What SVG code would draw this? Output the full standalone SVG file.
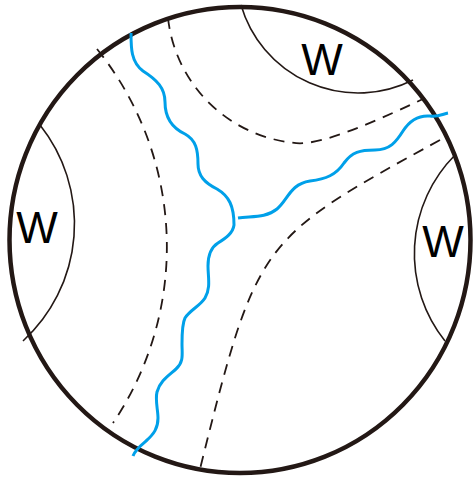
<svg xmlns="http://www.w3.org/2000/svg" width="473" height="478" viewBox="0 0 473 478">
<style>
.bd{fill:none;stroke:#231815;stroke-width:4.5}
.thin{fill:none;stroke:#231815;stroke-width:1.6}
.dash{fill:none;stroke:#231815;stroke-width:1.8;stroke-dasharray:11 8}
.wave{fill:none;stroke:#00a0e9;stroke-width:3;stroke-linecap:butt;stroke-linejoin:round}
.lbl{font-family:"Liberation Sans",Arial,sans-serif;font-size:44px;fill:#000;text-anchor:middle}
</style>
<rect width="473" height="478" fill="#fff"/>
<g id="disk">
<ellipse class="bd" cx="240" cy="240" rx="230.5" ry="233"/>
</g>
<g id="region-left">
<path class="thin" d="M40,125 A159,159 0 0 1 23,341"/>
<text class="lbl" x="37" y="243">W</text>
</g>
<g id="region-top">
<path class="thin" d="M241,5 A122,122 0 0 0 413,80"/>
<text class="lbl" x="322" y="75">W</text>
</g>
<g id="region-right">
<path class="thin" d="M455,155 A140,140 0 0 0 445,341"/>
<text class="lbl" x="443" y="257">W</text>
</g>
<g id="connectors">
<path class="dash" d="M97,49 A315,315 0 0 1 113,423"/>
<path class="dash" d="M168,18 A141,141 0 0 0 300,143.3 C320.6,143.3 359.6,129.3 425,98"/>
<path class="dash" d="M440,140 C257,240 257,240 199,473"/>
<path class="wave" d="M131,33 C131,48 131,62 143,71 C157,80 165,88 165,102 C165,116 170,127 185,134 C196,140 198,150 198,164 C198,176 205,183 217,189 C229,196 234,206 234,225 C233,233 226,238 218,243 C210,248 208,256 208,266 C208,277 211,288 205,298 C200,306 190,310 185,318 C182,324 182,334 182,344 C182,354 184,362 176,369 C168,376 160,381 157,392 C155,400 158,410 158,418 C158,428 154,434 146,441 C140,446 135,450 133,456"/>
<path class="wave" d="M238,218 C252,216 266,218 277,209 C288,200 290,184 310,181 C326,179 336,175 344,163 C352,152 360,150 375,150 C390,150 396,142 403,131 C410,120 418,115 430,116 C438,117 443,114 448,113"/>
</g>
</svg>
